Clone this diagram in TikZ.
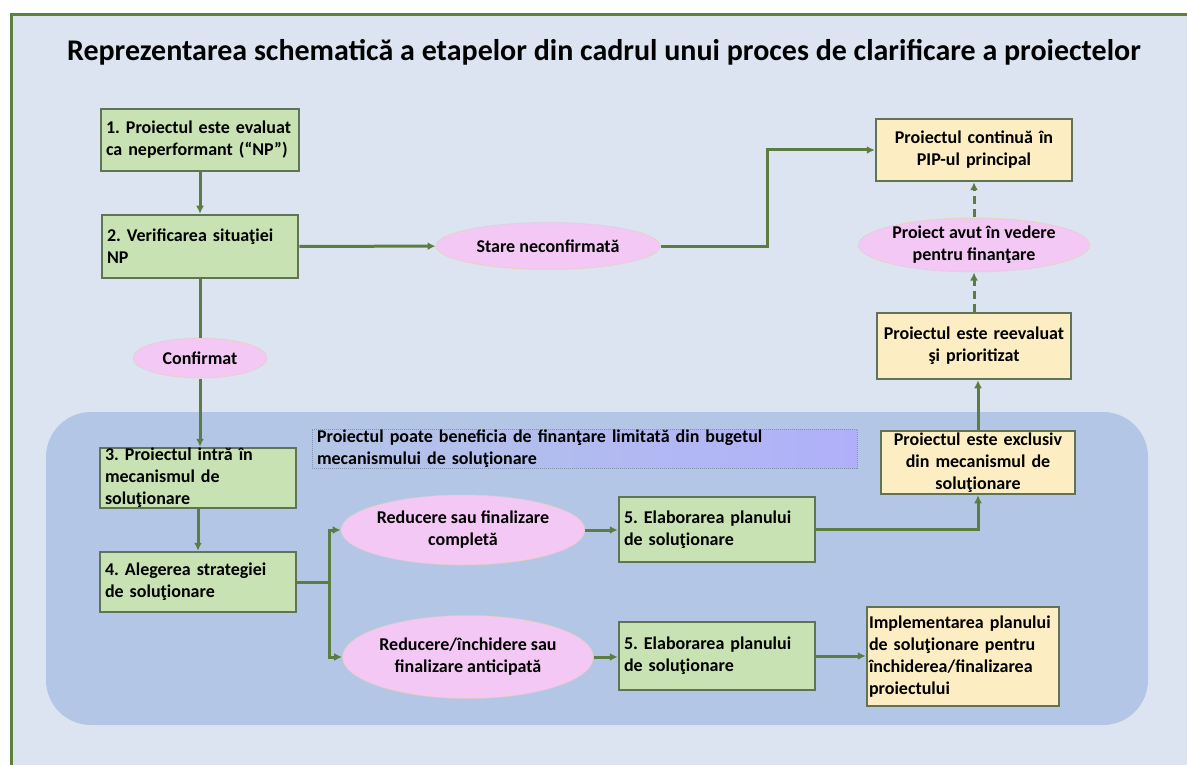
\documentclass[tikz,border=0pt]{standalone}
\usepackage{fontspec}
\setmainfont{Carlito}
\frenchspacing
\usetikzlibrary{arrows.meta,calc,shapes.geometric}
\definecolor{panelbg}{HTML}{DCE4F2}
\definecolor{framegreen}{HTML}{5E7F3E}
\definecolor{zonebg}{HTML}{B4C6E6}
\definecolor{flowgreen}{HTML}{5B7D42}
\definecolor{boxedge}{HTML}{5F7356}
\definecolor{grnfill}{HTML}{C8E2B4}
\definecolor{ylwfill}{HTML}{FCEDC2}
\definecolor{pinkfill}{HTML}{F4C8F4}
\definecolor{pinkedge}{HTML}{E2CFC0}
\definecolor{lavender}{HTML}{B0B0FA}
\definecolor{noteedge}{HTML}{8494B0}
\newcommand{\boxfont}{\bfseries\fontsize{18}{22}\selectfont}
\tikzset{
  flowline/.style={line width=3pt,color=flowgreen},
  flowarr/.style={-{Latex[length=8pt,width=8pt]},line width=3pt,color=flowgreen},
  dasharr/.style={-{Latex[length=8pt,width=8pt]},line width=3pt,color=flowgreen,dash pattern=on 8pt off 5pt},
  greenbox/.style={draw=boxedge,fill=grnfill,line width=2.5pt,align=left,font=\boxfont,inner xsep=5pt,inner ysep=1pt,minimum width=196,text width=186},
  yellowbox/.style={draw=boxedge,fill=ylwfill,line width=2.5pt,align=center,font=\boxfont,inner xsep=3pt,inner ysep=1pt,minimum width=194,text width=188},
  pinkoval/.style={ellipse,draw=pinkedge,densely dotted,fill=pinkfill,line width=1pt,align=center,font=\boxfont,inner sep=0pt},
  notebox/.style={draw=noteedge,densely dotted,line width=1pt,left color=zonebg,right color=lavender,align=left,font=\boxfont,inner xsep=5pt,inner ysep=0pt,text width=535},
  titletext/.style={font=\bfseries\fontsize{30}{36}\selectfont}
}
\begin{document}
\begin{tikzpicture}[x=1pt,y=-1pt,>=Latex]
  \useasboundingbox (0,0) rectangle (1187,765);
  \clip (0,0) rectangle (1187,765);
  \fill[white] (0,0) rectangle (1187,765);
  \draw[draw=framegreen,fill=panelbg,line width=3pt] (11,15) rectangle (1200,780);
  \fill[zonebg,rounded corners=45pt] (46,412) rectangle (1148,725);

  \node[titletext] (title) at (604,52) {Reprezentarea schematică a etapelor din cadrul unui proces de clarificare a proiectelor};
  \node[notebox,minimum width=545,minimum height=39] (fin) at (584.5,448.5)
    {Proiectul poate beneficia de finanţare limitată din bugetul\\mecanismului de soluţionare};

  \node[greenbox,minimum width=198,text width=188,minimum height=62] (eval) at (200,140) {1. Proiectul este evaluat\\ca neperformant (“NP”)};
  \node[greenbox,minimum height=63] (verif) at (200,246.5) {2. Verificarea situaţiei\\NP};
  \node[pinkoval,minimum width=134,minimum height=40] (conf) at (200,358) {Confirmat};
  \node[greenbox,minimum width=194,minimum height=60,inner ysep=0pt] (intra) at (198,478) {3. Proiectul intră în\\mecanismul de\\soluţionare};
  \node[greenbox,minimum width=194,minimum height=60] (alege) at (198,582) {4. Alegerea strategiei\\de soluţionare};
  \node[pinkoval,minimum width=224,minimum height=47] (stare) at (548,246) {Stare neconfirmată};
  \node[pinkoval,minimum width=198,minimum height=70] (compl) at (463,530) {Reducere sau finalizare\\completă};
  \node[pinkoval,minimum width=197,minimum height=83] (antic) at (468,657) {Reducere/închidere sau\\finalizare anticipată};
  \node[greenbox,minimum width=193,minimum height=65] (plan1) at (717,529.5) {5. Elaborarea planului\\de soluţionare};
  \node[greenbox,minimum width=193,minimum height=68] (plan2) at (717,656) {5. Elaborarea planului\\de soluţionare};
  \node[yellowbox,minimum width=196,minimum height=62] (pip) at (974,150) {Proiectul continuă în\\PIP-ul principal};
  \node[pinkoval,minimum width=195,minimum height=54] (avut) at (974,245) {Proiect avut în vedere\\pentru finanţare};
  \node[yellowbox,minimum height=66] (reev) at (974,346) {Proiectul este reevaluat\\şi prioritizat};
  \node[yellowbox,minimum width=191,minimum height=63,inner ysep=0pt] (excl) at (978,462.5) {Proiectul este exclusiv\\din mecanismul de\\soluţionare};
  \node[yellowbox,align=left,minimum width=192,text width=188,inner xsep=2pt,minimum height=99] (impl) at (963,656.5)
    {Implementarea planului\\de soluţionare pentru\\închiderea/finalizarea\\proiectului};

  \draw[flowarr] (eval) -- (verif);
  \draw[flowarr] (verif) -- (stare);
  \draw[flowarr] (stare.east) -| ($(stare.east)!.5!(pip.west)$) |- (pip.west);
  \draw[flowline] (verif) -- (conf);
  \draw[flowarr] (conf.south) -- (conf.south |- intra.north);
  \draw[flowarr] (intra) -- (alege);
  \draw[flowarr] (alege.east) -- ++(32,0) |- (compl.west);
  \draw[flowarr] (alege.east) -- ++(32,0) |- (antic.west);
  \draw[flowarr] (compl) -- (compl -| plan1.west);
  \draw[flowarr] (antic) -- (antic -| plan2.west);
  \draw[flowarr] (plan1.east) -| (excl.south);
  \draw[flowarr] (plan2) -- (plan2 -| impl.west);
  \draw[flowarr] (excl.north) -- (excl.north |- reev.south);
  \draw[dasharr] (reev) -- (avut);
  \draw[dasharr] (avut) -- (pip);
\end{tikzpicture}
\end{document}
